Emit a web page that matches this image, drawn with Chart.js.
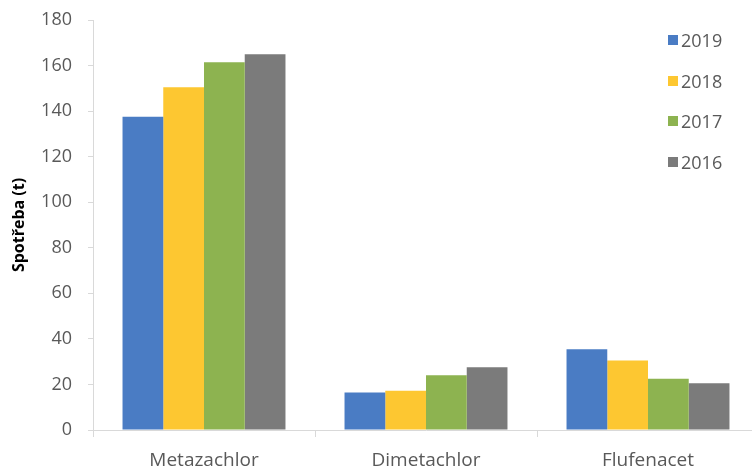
<!DOCTYPE html>
<html>
<head>
<meta charset="utf-8">
<script src="https://cdn.jsdelivr.net/npm/chart.js@4.4.1/dist/chart.umd.min.js"></script>
<style>
  html, body { margin: 0; padding: 0; background: #fff; overflow: hidden; }
  #wrap { position: relative; width: 762px; height: 469px; }
  #legend { position: absolute; left: 668px; top: 20px; font-family: "Open Sans", sans-serif; font-size: 18px; color: #595959; }
  #legend div { height: 40.5px; display: flex; align-items: center; }
  #legend span.box { display: inline-block; width: 10px; height: 10px; margin-right: 3px; }
</style>
</head>
<body>
<div id="wrap">
  <canvas id="c"></canvas>
  <div id="legend"></div>
</div>
<script>
const categories = ['Metazachlor', 'Dimetachlor', 'Flufenacet']
const seriesNames = ['2019', '2018', '2017', '2016']
const values2019 = [137.5, 16.5, 35.5]
const values2018 = [150.5, 17.2, 30.5]
const values2017 = [161.5, 24, 22.5]
const values2016 = [165, 27.5, 20.5]
const yTicks = [0, 20, 40, 60, 80, 100, 120, 140, 160, 180]

const COLORS = ['#4A7CC4', '#FDC731', '#8DB350', '#7B7B7B']
const seriesValues = [values2019, values2018, values2017, values2016]

const datasets = seriesNames.map((name, i) => ({
  label: name,
  data: seriesValues[i],
  backgroundColor: COLORS[i],
  categoryPercentage: 0.734,
  barPercentage: 1.0,
}))

// legend as plain html, built from the same arrays
const legend = document.getElementById('legend')
seriesNames.forEach((name, i) => {
  const row = document.createElement('div')
  row.innerHTML = `<span class="box" style="background:${COLORS[i]}"></span>${name}`
  legend.appendChild(row)
})

const axisColor = '#D9D9D9'
const tickFont = { family: '"Open Sans", sans-serif', size: 18 }

new Chart(document.getElementById('c'), {
  type: 'bar',
  data: { labels: categories, datasets },
  options: {
    responsive: true,
    maintainAspectRatio: false,
    animation: false,
    layout: { padding: { top: 20, right: 3, left: 0, bottom: 0 } },
    plugins: {
      legend: { display: false },
      tooltip: { enabled: false },
    },
    scales: {
      x: {
        grid: { drawOnChartArea: false, color: axisColor, tickLength: 7, offset: true },
        border: { color: axisColor },
        ticks: { color: '#595959', font: { family: '"Open Sans", sans-serif', size: 19 }, padding: 12, maxRotation: 0 },
        afterFit: s => { s.height = 39 },
      },
      y: {
        min: 0,
        max: 180,
        afterBuildTicks: s => { s.ticks = yTicks.map(v => ({ value: v })) },
        grid: { drawOnChartArea: false, color: axisColor, tickLength: 5 },
        border: { color: axisColor },
        ticks: { color: '#595959', font: tickFont, padding: 16 },
        title: {
          display: true,
          text: 'Spotřeba (t)',
          color: '#000',
          font: { family: '"Open Sans", sans-serif', size: 16, weight: 'bold' },
          padding: { top: 10, bottom: 0 },
        },
        afterFit: s => { s.width = 93; s.paddingTop = 0; s.paddingBottom = 0 },
      },
    },
  },
})
</script>
</body>
</html>
